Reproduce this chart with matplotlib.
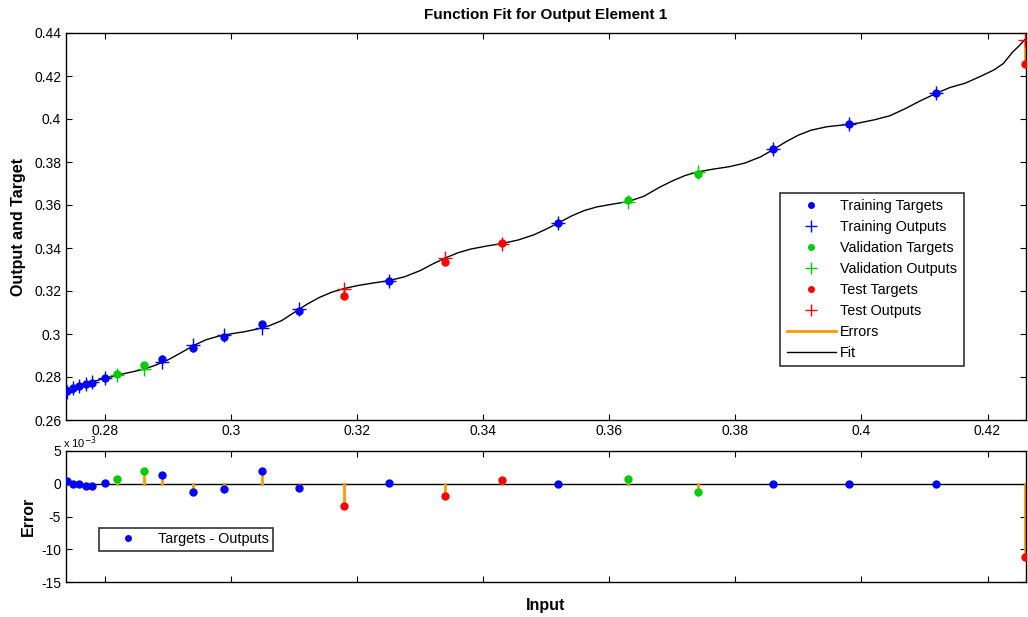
import matplotlib
matplotlib.use("Agg")
import matplotlib.pyplot as plt
from matplotlib.lines import Line2D
import numpy as np

plt.rcParams['font.family'] = ['Liberation Sans', 'DejaVu Sans']
plt.rcParams['axes.unicode_minus'] = False

# ---- data ----
inputs = [0.2739, 0.2749, 0.2759, 0.2770, 0.2779, 0.2800, 0.2819, 0.2861, 0.2890,
          0.2939, 0.2989, 0.3049, 0.3108, 0.3179, 0.3250, 0.3340, 0.3430, 0.3519,
          0.3629, 0.3740, 0.3860, 0.3980, 0.4119, 0.4260]
targets = [0.2736, 0.2747, 0.2758, 0.2766, 0.2774, 0.2794, 0.2815, 0.2854, 0.2882,
           0.2936, 0.2987, 0.3047, 0.3108, 0.3177, 0.3248, 0.3336, 0.3425, 0.3518,
           0.3623, 0.3743, 0.3859, 0.3975, 0.4120, 0.4256]
errors_e3 = [0.35, 0.0, -0.1, -0.3, -0.3, 0.05, 0.7, 1.9, 1.4, -1.2, -0.8, 1.9,
             -0.6, -3.4, 0.1, -1.8, 0.5, 0.0, 0.8, -1.2, 0.0, 0.0, 0.0, -11.2]
sets = (['train'] * 6 + ['val', 'val'] + ['train'] * 5 +
        ['test', 'train', 'test', 'test', 'train', 'val', 'val',
         'train', 'train', 'train', 'test'])

fit_x = [0.2738, 0.2760, 0.2780, 0.2800, 0.2820, 0.2840, 0.2861, 0.2880, 0.2900,
         0.2920, 0.2940, 0.2960, 0.2980, 0.3000, 0.3020, 0.3040, 0.3060, 0.3080,
         0.3100, 0.3120, 0.3140, 0.3160, 0.3180, 0.3200, 0.3225, 0.3250, 0.3275,
         0.3300, 0.3320, 0.3340, 0.3360, 0.3380, 0.3405, 0.3430, 0.3455, 0.3480,
         0.3500, 0.3520, 0.3540, 0.3560, 0.3580, 0.3605, 0.3630, 0.3655, 0.3680,
         0.3700, 0.3720, 0.3740, 0.3765, 0.3790, 0.3815, 0.3840, 0.3860, 0.3880,
         0.3900, 0.3920, 0.3945, 0.3970, 0.3995, 0.4020, 0.4045, 0.4070, 0.4095,
         0.4119, 0.4140, 0.4165, 0.4190, 0.4210, 0.4225, 0.4240, 0.4250, 0.4260]
fit_y = [0.2733, 0.2759, 0.2778, 0.2794, 0.2809, 0.2822, 0.2836, 0.2855, 0.2880,
         0.2912, 0.2946, 0.2973, 0.2990, 0.3001, 0.3010, 0.3022, 0.3038, 0.3062,
         0.3100, 0.3138, 0.3170, 0.3195, 0.3212, 0.3225, 0.3237, 0.3248, 0.3266,
         0.3295, 0.3326, 0.3354, 0.3378, 0.3395, 0.3409, 0.3421, 0.3437, 0.3461,
         0.3488, 0.3518, 0.3549, 0.3574, 0.3591, 0.3604, 0.3616, 0.3641, 0.3683,
         0.3712, 0.3737, 0.3754, 0.3767, 0.3778, 0.3795, 0.3824, 0.3858, 0.3894,
         0.3925, 0.3948, 0.3964, 0.3972, 0.3981, 0.3996, 0.4015, 0.4049, 0.4087,
         0.4120, 0.4146, 0.4167, 0.4200, 0.4228, 0.4258, 0.4312, 0.4340, 0.4372]

x_ticks = [0.28, 0.30, 0.32, 0.34, 0.36, 0.38, 0.40, 0.42]
x_ticklabels = ['0.28', '0.3', '0.32', '0.34', '0.36', '0.38', '0.4', '0.42']
y_ticks_top = [0.26, 0.28, 0.30, 0.32, 0.34, 0.36, 0.38, 0.40, 0.42, 0.44]
y_ticklabels_top = ['0.26', '0.28', '0.3', '0.32', '0.34', '0.36', '0.38', '0.4', '0.42', '0.44']
y_ticks_bot = [-15, -10, -5, 0, 5]

colors = {'train': '#0000FF', 'val': '#00CC00', 'test': '#FF0000'}
orange = '#FF9900'

x = np.array(inputs)
t = np.array(targets)
e = np.array(errors_e3)
o = t - e * 1e-3
s = np.array(sets)

fig = plt.figure(figsize=(10.28, 6.17), dpi=100)
ax = fig.add_axes([66 / 1028, 1 - 420 / 617, 960 / 1028, 387 / 617])
ax2 = fig.add_axes([66 / 1028, 1 - 582 / 617, 960 / 1028, 131 / 617])

xlim = (0.2738, 0.4261)

# top plot
for xi, ti, oi in zip(x, t, o):
    ax.plot([xi, xi], [ti, oi], color=orange, lw=2, zorder=2)
ax.plot(fit_x, fit_y, color='black', lw=1, zorder=3)
for key in ['train', 'val', 'test']:
    m = s == key
    ax.plot(x[m], t[m], 'o', color=colors[key], ms=5, zorder=4)
    ax.plot(x[m], o[m], '+', color=colors[key], ms=10, mew=1, zorder=5)

ax.set_xlim(*xlim)
ax.set_ylim(0.26, 0.44)
ax.set_xticks(x_ticks)
ax.set_xticklabels(x_ticklabels)
ax.set_yticks(y_ticks_top)
ax.set_yticklabels(y_ticklabels_top)
ax.set_title('Function Fit for Output Element 1', fontsize=11, fontweight='bold', pad=10)
ax.set_ylabel('Output and Target', fontsize=11.5, fontweight='bold', labelpad=6)

handles = [
    Line2D([], [], ls='none', marker='o', color=colors['train'], ms=4),
    Line2D([], [], ls='none', marker='+', color=colors['train'], ms=9, mew=1),
    Line2D([], [], ls='none', marker='o', color=colors['val'], ms=4),
    Line2D([], [], ls='none', marker='+', color=colors['val'], ms=9, mew=1),
    Line2D([], [], ls='none', marker='o', color=colors['test'], ms=4),
    Line2D([], [], ls='none', marker='+', color=colors['test'], ms=9, mew=1),
    Line2D([], [], color=orange, lw=2),
    Line2D([], [], color='black', lw=1),
]
labels = ['Training Targets', 'Training Outputs', 'Validation Targets',
          'Validation Outputs', 'Test Targets', 'Test Outputs', 'Errors', 'Fit']
leg = ax.legend(handles, labels, loc='upper left', bbox_to_anchor=(0.744, 0.587),
                fontsize=10.4, frameon=True, fancybox=False, edgecolor='black',
                labelspacing=0.48, handlelength=3.4, handletextpad=0.3,
                borderpad=0.45, borderaxespad=0)
leg.get_frame().set_linewidth(1.2)

# bottom plot
ax2.axhline(0, color='black', lw=1, zorder=1)
for xi, ei in zip(x, e):
    ax2.plot([xi, xi], [0, ei], color=orange, lw=2, zorder=2)
for key in ['train', 'val', 'test']:
    m = s == key
    ax2.plot(x[m], e[m], 'o', color=colors[key], ms=5, zorder=3)
ax2.set_xlim(*xlim)
ax2.set_ylim(-15, 5)
ax2.set_xticks(x_ticks)
ax2.set_xticklabels([])
ax2.set_yticks(y_ticks_bot)
ax2.set_ylabel('Error', fontsize=11.5, fontweight='bold', labelpad=4)
ax2.set_xlabel('Input', fontsize=11.5, fontweight='bold', labelpad=8)
ax2.text(-0.003, 1.0, 'x 10$^{-3}$', transform=ax2.transAxes, fontsize=8,
         ha='left', va='bottom')

leg2 = ax2.legend([Line2D([], [], ls='none', marker='o', color=colors['train'], ms=4)],
                  ['Targets - Outputs'], loc='upper left',
                  bbox_to_anchor=(0.034, 0.412), fontsize=10.4, frameon=True,
                  fancybox=False, edgecolor='black', handlelength=3.4,
                  handletextpad=0.4, borderpad=0.3, borderaxespad=0)
leg2.get_frame().set_linewidth(1.2)

for a in (ax, ax2):
    a.tick_params(direction='in', top=True, right=True, length=4, labelsize=10,
                  width=0.8)
    for sp in a.spines.values():
        sp.set_linewidth(1)
ax.tick_params(axis='x', pad=3)

fig.savefig('out.png', dpi=100)
